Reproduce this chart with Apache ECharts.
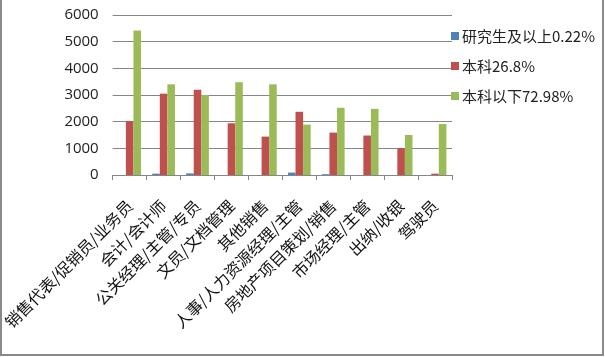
<!DOCTYPE html>
<html>
<head>
<meta charset="utf-8">
<script src="https://cdn.jsdelivr.net/npm/echarts@6/dist/echarts.min.js"></script>
<style>
html,body{margin:0;padding:0;background:#fff;}
#c{width:605px;height:357px;}
</style>
</head>
<body>
<div id="c"></div>
<script>
const categories = ["销售代表/促销员/业务员","会计/会计师","公关经理/主管/专员","文员/文档管理","其他销售","人事/人力资源经理/主管","房地产项目策划/销售","市场经理/主管","出纳/收银","驾驶员"];
const seriesNames = ["研究生及以上0.22%","本科26.8%","本科以下72.98%"];
const graduate = [0, 50, 60, 0, 0, 90, 30, 0, 0, 0];
const bachelor = [2020, 3050, 3200, 1940, 1440, 2370, 1590, 1480, 1010, 50];
const belowBachelor = [5420, 3400, 3000, 3480, 3400, 1890, 2520, 2480, 1500, 1910];
const yTicks = [0, 1000, 2000, 3000, 4000, 5000, 6000];
const colors = ["#4F81BD", "#C0504D", "#9BBB59"];

const chart = echarts.init(document.getElementById('c'), null, {renderer: 'canvas'});
const values = [graduate, bachelor, belowBachelor];
chart.setOption({
  animation: false,
  backgroundColor: '#fff',
  color: colors,
  grid: {left: 110, right: 153, top: 15, bottom: 182, containLabel: false},
  legend: {
    orient: 'vertical',
    left: 446, top: 23,
    itemWidth: 8, itemHeight: 8, itemGap: 14,
    icon: 'rect',
    textStyle: {fontFamily: '"Noto Sans CJK SC", sans-serif', fontSize: 15, color: '#222', padding: [0,0,0,-2], lineHeight: 16},
    data: seriesNames
  },
  xAxis: {
    type: 'category',
    data: categories,
    axisLine: {lineStyle: {color: '#868686', width: 1}},
    axisTick: {show: true, length: 5, lineStyle: {color: '#868686'}},
    axisLabel: {rotate: 45, interval: 0, margin: 28, fontSize: 16, color: '#111', fontFamily: '"Noto Sans CJK SC", sans-serif'}
  },
  yAxis: {
    type: 'value',
    min: yTicks[0], max: yTicks[yTicks.length-1], interval: 1000,
    axisLine: {show: false},
    axisTick: {show: false},
    splitLine: {lineStyle: {color: '#868686', width: 1}},
    axisLabel: {margin: 14, fontSize: 15, color: '#222', fontFamily: '"Open Sans", "DejaVu Sans", sans-serif', formatter: v => String(v)}
  },
  series: seriesNames.map((n, i) => ({
    name: n, type: 'bar', data: values[i],
    barGap: '0%', barCategoryGap: '33%',
    itemStyle: {color: colors[i]}
  })),
  graphic: [
    {type: 'line', shape: {x1: 1, y1: 0, x2: 1, y2: 356}, style: {stroke: '#8a8a8a', lineWidth: 2}},
    {type: 'line', shape: {x1: 603, y1: 0, x2: 603, y2: 356}, style: {stroke: '#8a8a8a', lineWidth: 2}},
    {type: 'line', shape: {x1: 0, y1: 355, x2: 604, y2: 355}, style: {stroke: '#8a8a8a', lineWidth: 2}}
  ]
});
</script>
</body>
</html>
